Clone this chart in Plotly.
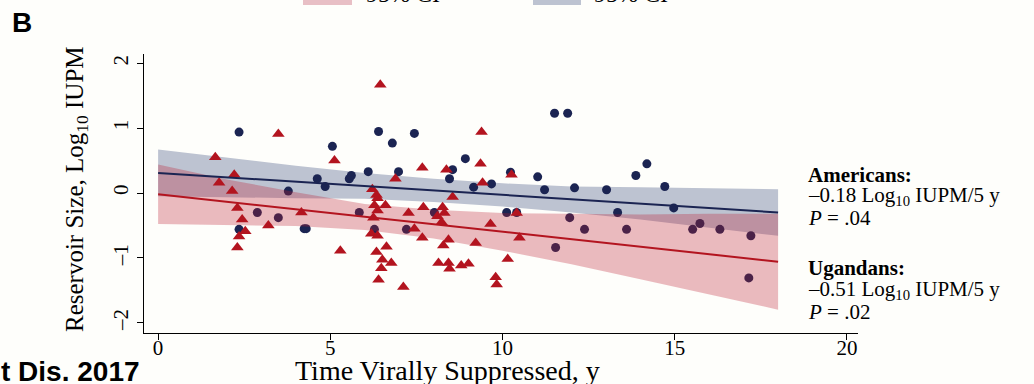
import plotly.graph_objects as go

# ---------------- data ----------------
am_x = [2.35, 5.06, 6.40, 6.80, 7.44, 3.78, 4.62, 4.85, 5.55, 5.61, 6.10, 6.98, 8.55, 8.46,
        11.51, 11.89, 8.92, 10.23, 11.02, 9.16, 9.68, 11.22, 12.09, 13.02, 13.87, 14.19, 14.71,
        10.12, 10.41, 13.34, 14.97, 11.95, 12.38, 13.60, 15.52, 15.73, 16.31, 17.21, 11.54, 17.15,
        2.88, 3.49, 5.84, 8.02, 2.35, 4.24, 4.30, 6.28, 7.21]
am_y = [0.94, 0.72, 0.95, 0.77, 0.92, 0.03, 0.22, 0.10, 0.22, 0.27, 0.33, 0.33, 0.36, 0.22,
        1.23, 1.23, 0.53, 0.32, 0.25, 0.09, 0.14, 0.05, 0.08, 0.05, 0.27, 0.45, 0.10,
        -0.30, -0.30, -0.30, -0.23, -0.38, -0.56, -0.56, -0.56, -0.47, -0.56, -0.66, -0.84, -1.31,
        -0.30, -0.38, -0.30, -0.30, -0.56, -0.55, -0.55, -0.56, -0.56]

ug_x = [6.45, 3.49, 1.66, 5.12, 2.21, 1.77, 2.15, 6.22, 6.34, 7.67, 8.37, 6.89, 8.55, 9.39,
        9.36, 10.26, 9.42, 6.37, 6.60, 2.30, 2.44, 3.20, 4.16, 2.53, 2.35, 6.28, 6.37, 6.25,
        6.19, 6.37, 7.27, 7.70, 8.26, 8.31, 8.11, 8.23, 7.44, 7.67, 8.43, 2.30, 5.29, 6.34,
        6.63, 6.51, 6.77, 6.48, 6.40, 7.12, 8.28, 8.14, 8.43, 8.46, 8.80, 9.01, 10.41, 9.65,
        9.22, 10.49, 10.15, 9.80, 9.83]
ug_y = [1.67, 0.91, 0.55, 0.50, 0.28, 0.16, 0.03, 0.06, -0.03, 0.39, 0.36, 0.22, -0.06, 0.94,
        0.45, 0.28, 0.16, -0.08, -0.19, -0.23, -0.41, -0.50, -0.30, -0.59, -0.67, -0.19, -0.27, -0.38,
        -0.63, -0.66, -0.31, -0.22, -0.22, -0.31, -0.36, -0.45, -0.55, -0.69, -0.72, -0.84, -0.89, -0.91,
        -0.83, -1.03, -1.08, -1.16, -1.34, -1.45, -0.81, -1.08, -1.08, -1.17, -1.12, -1.09, -0.31, -0.48,
        -0.77, -0.69, -1.02, -1.30, -1.41]

fit_x = [0, 18]
am_fit = [0.31, -0.30]
ug_fit = [-0.02, -1.06]

band_x = [0, 2, 4, 6, 8, 10, 12, 14, 16, 18]
am_ci_hi = [0.67, 0.54, 0.42, 0.31, 0.22, 0.15, 0.10, 0.09, 0.07, 0.06]
am_ci_lo = [-0.05, -0.06, -0.08, -0.09, -0.14, -0.21, -0.30, -0.41, -0.53, -0.66]
ug_ci_hi = [0.44, 0.21, 0.01, -0.17, -0.26, -0.31, -0.32, -0.33, -0.32, -0.32]
ug_ci_lo = [-0.48, -0.49, -0.51, -0.57, -0.70, -0.89, -1.10, -1.33, -1.56, -1.80]

x_ticks = [0, 5, 10, 15, 20]
y_ticks = [-2, -1, 0, 1, 2]
y_ticklabels = ["\u20132", "\u20131", "0", "1", "2"]

# ---------------- styling ----------------
NAVY = "#1b2452"
RED = "#b3141f"
GREY_BAND = "#bdc3d1"
PINK_BAND = "rgba(190,30,50,0.30)"
SERIF = "Liberation Serif"
SANS = "Liberation Sans"

L, R, T, B = 144, 858, 54, 333
W, H = 1034, 384


def px_x(p):
    return (p - L) / (R - L)


def px_y(p):
    return (B - p) / (B - T)


fig = go.Figure()

fig.add_trace(go.Scatter(x=band_x + band_x[::-1], y=am_ci_hi + am_ci_lo[::-1],
                         fill="toself", fillcolor=GREY_BAND, line=dict(width=0),
                         mode="lines", hoverinfo="skip", showlegend=False))
fig.add_trace(go.Scatter(x=am_x, y=am_y, mode="markers",
                         marker=dict(symbol="circle", size=9, color=NAVY), showlegend=False))
fig.add_trace(go.Scatter(x=band_x + band_x[::-1], y=ug_ci_hi + ug_ci_lo[::-1],
                         fill="toself", fillcolor=PINK_BAND, line=dict(width=0),
                         mode="lines", hoverinfo="skip", showlegend=False))
fig.add_trace(go.Scatter(x=ug_x, y=ug_y, mode="markers",
                         marker=dict(symbol="triangle-up", size=11, color=RED), showlegend=False))
fig.add_trace(go.Scatter(x=fit_x, y=am_fit, mode="lines",
                         line=dict(color=NAVY, width=2), showlegend=False))
fig.add_trace(go.Scatter(x=fit_x, y=ug_fit, mode="lines",
                         line=dict(color=RED, width=2), showlegend=False))

axis_common = dict(showline=True, linecolor="black", linewidth=1.3, ticks="outside",
                   ticklen=6, tickwidth=1.3, tickcolor="black", showgrid=False,
                   zeroline=False, tickfont=dict(family=SERIF, size=21, color="black"))

fig.update_xaxes(range=[-0.41, 20.32], tickvals=x_ticks, ticklabelstandoff=-10, **axis_common)
fig.update_yaxes(range=[-2.16, 2.145], tickvals=y_ticks, ticktext=y_ticklabels,
                 tickangle=-90, **axis_common)

ann = []
ann.append(dict(x=px_x(447), y=px_y(370), xref="paper", yref="paper",
                text="Time Virally Suppressed, y", showarrow=False,
                font=dict(family=SERIF, size=28, color="black"),
                xanchor="center", yanchor="middle"))
ann.append(dict(x=px_x(76), y=px_y(189), xref="paper", yref="paper",
                text="Reservoir Size, Log<sub>10</sub> IUPM", showarrow=False, textangle=-90,
                font=dict(family=SERIF, size=25, color="black"),
                xanchor="center", yanchor="middle"))

right_lines = [
    ("<b>Americans:</b>", 175),
    ("\u20130.18 Log<sub>10</sub> IUPM/5 y", 196),
    ("<i>P</i> = .04", 218),
    ("<b>Ugandans:</b>", 268),
    ("\u20130.51 Log<sub>10</sub> IUPM/5 y", 290),
    ("<i>P</i> = .02", 312),
]
for txt, yc in right_lines:
    ann.append(dict(x=px_x(806), y=px_y(yc), xref="paper", yref="paper", text=txt,
                    showarrow=False, font=dict(family=SERIF, size=21, color="black"),
                    xanchor="left", yanchor="middle"))

ann.append(dict(x=px_x(10), y=px_y(23), xref="paper", yref="paper", text="<b>B</b>",
                showarrow=False, font=dict(family=SANS, size=28, color="black"),
                xanchor="left", yanchor="middle"))
ann.append(dict(x=px_x(-1), y=px_y(354), xref="paper", yref="paper",
                text="<b>t Dis. 2017</b>", showarrow=False,
                font=dict(family=SANS, size=28, color="black"),
                xanchor="left", yanchor="top"))
for xl in (364, 592):
    ann.append(dict(x=px_x(xl), y=px_y(9), xref="paper", yref="paper", text="95% CI",
                    showarrow=False, font=dict(family=SERIF, size=24, color="black"),
                    xanchor="left", yanchor="bottom"))
fig.update_layout(annotations=ann)

shapes = [
    dict(type="rect", xref="paper", yref="paper", x0=px_x(303), x1=px_x(352),
         y0=px_y(5), y1=px_y(-20), fillcolor="#e8bfc5", line=dict(width=0)),
    dict(type="rect", xref="paper", yref="paper", x0=px_x(533), x1=px_x(581),
         y0=px_y(5), y1=px_y(-20), fillcolor=GREY_BAND, line=dict(width=0)),
]
fig.update_layout(shapes=shapes)

fig.update_layout(width=W, height=H, margin=dict(l=L, r=W - R, t=T, b=H - B),
                  paper_bgcolor="#fefefb", plot_bgcolor="#fefefb", showlegend=False)

fig.write_html("out.html")
